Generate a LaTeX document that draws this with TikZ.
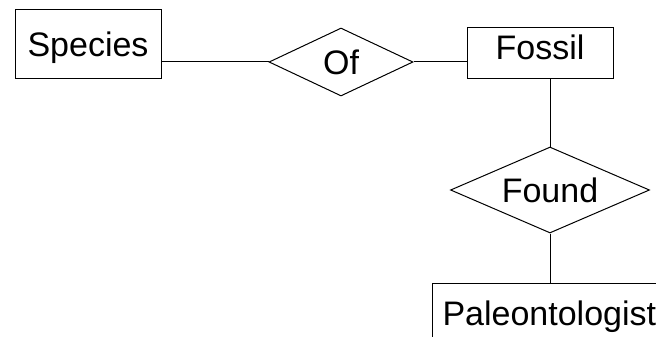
\documentclass[tikz,border=0pt]{standalone}
\usepackage{fontspec}
\setmainfont{Liberation Sans}
\usetikzlibrary{shapes.geometric}

\begin{document}
\begin{tikzpicture}[x=1pt,y=-1pt,line width=1pt,
    entity/.style={draw, rectangle, inner sep=0pt, font=\fontsize{34}{34}\selectfont, text height=24.3pt},
    relation/.style={draw, diamond, inner sep=0pt, aspect=2.3, font=\fontsize{34}{34}\selectfont, text height=24.3pt, text depth=0pt}]

    % Picture size (pixels of the reference)
    \def\w{656}
    \def\h{337}
    \clip (0,0) rectangle (\w,\h);

    % --- Entities ---
    \node[entity, minimum width=146pt, minimum height=69pt, text depth=0pt] (species) at (88,44.5) {Species};
    \node[entity, minimum width=146pt, minimum height=51pt, text depth=12pt] (fossil) at (540,53.5) {Fossil};
    \node[entity, anchor=north west, inner xsep=10pt, minimum height=60pt, text depth=0pt] (paleo) at (432,283) {Paleontologist};

    % --- Relations ---
    \node[relation, minimum width=144pt, minimum height=68pt] (of) at (341,62) {Of};
    \node[relation, minimum width=199pt, minimum height=86pt] (found) at (550,190) {Found};

    % --- Connectors ---
    \draw (of.west) -- (of.west -| species.east);
    \draw (of.east) -- (of.east -| fossil.west);
    \draw (found.north) -- (found.north |- fossil.south);
    \draw (found.south) -- (found.south |- paleo.north);

\end{tikzpicture}
\end{document}
